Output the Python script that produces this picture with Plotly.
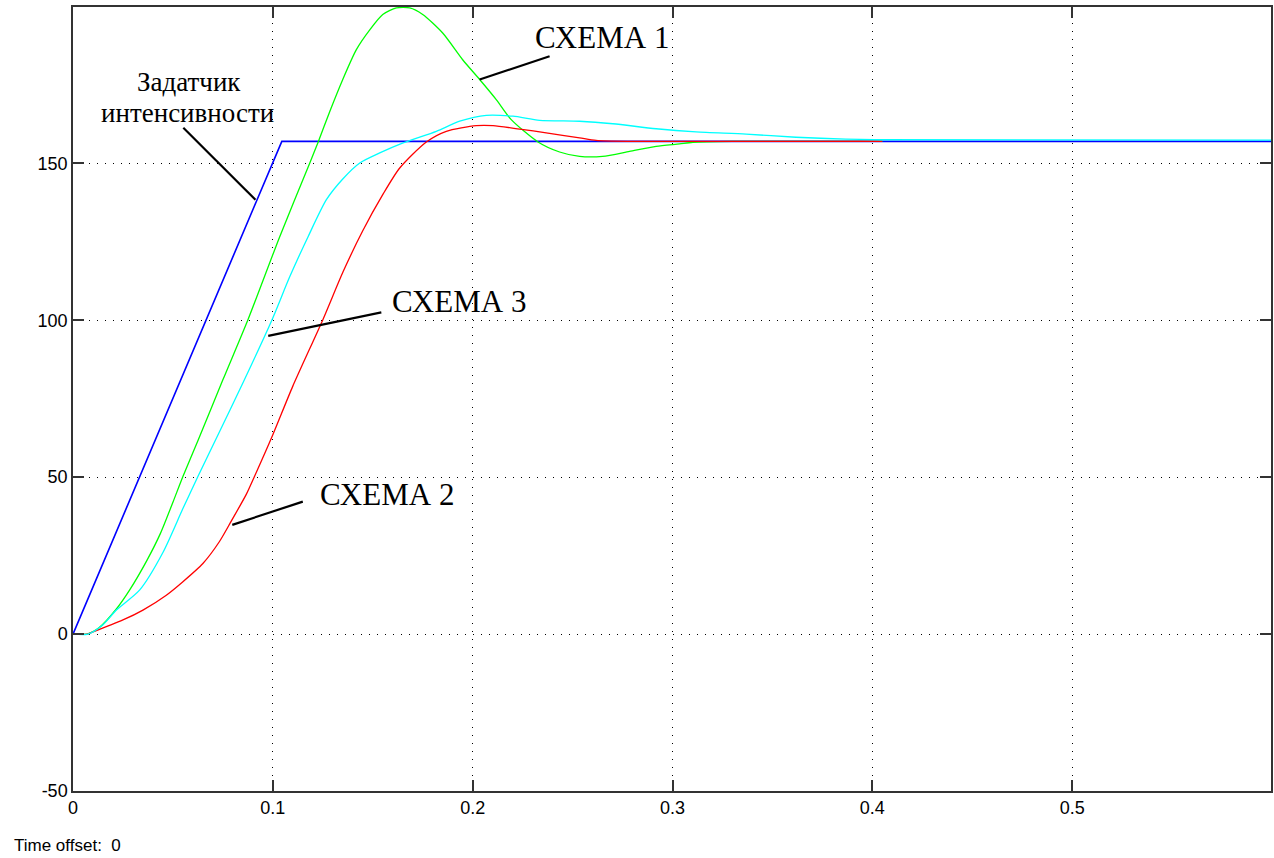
import plotly.graph_objects as go

# ---- data (time in s, speed values) ----
t_ref = [0, 0.1045, 0.6]
v_ref = [0, 157, 157]

t_s1 = [0, 0.007, 0.013, 0.0217, 0.0283, 0.037, 0.0437, 0.05, 0.055, 0.0627, 0.075,
        0.0877, 0.1035, 0.1185, 0.1227, 0.1285, 0.135, 0.1418, 0.1485, 0.155, 0.1618,
        0.1685, 0.175, 0.185, 0.195, 0.2035, 0.2118, 0.2193, 0.2327, 0.2435, 0.2535,
        0.265, 0.2785, 0.2918, 0.3035, 0.3102, 0.33, 0.405]
v_s1 = [0, 0, 2, 8, 14, 23.5, 32, 42, 50.2, 61.9, 81,
        100.4, 126.7, 150.1, 156.8, 166.5, 176.7, 186.2, 192.5, 197.4, 199.5,
        199.5, 197.4, 191.5, 183, 176.7, 170.3, 163.9, 156.8, 153.6, 152.2,
        152.2, 153.8, 155.4, 156.2, 156.7, 157, 157]

t_s2 = [0, 0.007, 0.01, 0.025, 0.035, 0.0467, 0.055, 0.065, 0.0733, 0.0792, 0.0867,
        0.0908, 0.1, 0.11, 0.1252, 0.1352, 0.145, 0.155, 0.1635, 0.1768,
        0.1868, 0.2018, 0.2102, 0.2235, 0.2368, 0.2535, 0.2618, 0.2777, 0.405]
v_s2 = [0, 0, 0.7, 4.5, 7.65, 12.4, 16.7, 22.5, 29.5, 36, 44.5,
        50.2, 63.5, 79, 100.4, 115.5, 128.5, 140, 148.5, 156.8,
        160.2, 162, 162, 160.9, 159.7, 158.1, 157.3, 157, 157]

t_s3 = [0, 0.0075, 0.015, 0.0217, 0.0333, 0.045, 0.055, 0.0625, 0.0718, 0.085, 0.0995,
        0.1085, 0.1177, 0.1268, 0.135, 0.1435, 0.1535, 0.1652, 0.1818, 0.1935, 0.2068,
        0.2202, 0.2335, 0.2535, 0.2702, 0.2918, 0.3118, 0.3368, 0.3618, 0.3868, 0.4052, 0.6]
v_s3 = [0, 0, 3, 7.65, 14, 26, 40, 50.2, 62.5, 80, 100,
        113.9, 126.7, 138.4, 145, 150.1, 153.3, 156.5, 160.2, 163.4, 165.3,
        165.0, 163.7, 163.4, 162.6, 161.0, 160.0, 159.3, 158.3, 157.7, 157.5, 157.4]

x_ticks = [0, 0.1, 0.2, 0.3, 0.4, 0.5]
x_ticktext = ["0", "0.1", "0.2", "0.3", "0.4", "0.5"]
y_ticks = [-50, 0, 50, 100, 150]
y_ticktext = ["-50", "0", "50", "100", "150"]

fig = go.Figure()
fig.add_trace(go.Scatter(x=t_ref, y=v_ref, mode="lines", line=dict(color="#0000ff", width=1.6), name="Задатчик"))
fig.add_trace(go.Scatter(x=t_s1, y=v_s1, mode="lines", line=dict(color="#00ff00", width=1.3, shape="spline", smoothing=0.7), name="СХЕМА 1"))
fig.add_trace(go.Scatter(x=t_s2, y=v_s2, mode="lines", line=dict(color="#ff0000", width=1.3, shape="spline", smoothing=0.7), name="СХЕМА 2"))
fig.add_trace(go.Scatter(x=t_s3, y=v_s3, mode="lines", line=dict(color="#00ffff", width=1.3, shape="spline", smoothing=0.7), name="СХЕМА 3"))

serif = dict(family="Liberation Serif, Times New Roman, serif", size=27, color="black")
serif_big = dict(family="Liberation Serif, Times New Roman, serif", size=31, color="black")

labels = [
    ("Задатчик", 0.058, 176.0, serif),
    ("интенсивности", 0.0575, 166.0, serif),
    ("СХЕМА 1", 0.2645, 190.0, serif_big),
    ("СХЕМА 3", 0.193, 106.0, serif_big),
    ("СХЕМА 2", 0.157, 44.6, serif_big),
]
for txt, x, y, f in labels:
    fig.add_annotation(x=x, y=y, xref="x", yref="y", text=txt, showarrow=False,
                       font=f, xanchor="center", yanchor="middle")

leaders = [
    (0.0552, 161.3, 0.0913, 138.4),
    (0.2385, 184.1, 0.2035, 176.7),
    (0.1543, 102.5, 0.0977, 95.0),
    (0.115, 42.2, 0.0797, 34.8),
]
for x0, y0, x1, y1 in leaders:
    fig.add_shape(type="line", x0=x0, y0=y0, x1=x1, y1=y1, xref="x", yref="y",
                  line=dict(color="black", width=2.2))

fig.add_annotation(x=-0.0508, y=-0.07, xref="paper", yref="paper", text="Time offset:  0",
                   showarrow=False, xanchor="left", yanchor="middle",
                   font=dict(family="Liberation Sans, Arial, sans-serif", size=17, color="black"))

axis_common = dict(
    showline=True, linecolor="#333333", linewidth=1.5, mirror="ticks",
    ticks="inside", ticklen=11, tickwidth=1.5, tickcolor="#333333",
    showgrid=True, gridcolor="black", gridwidth=1, griddash="1px,7px",
    zeroline=False,
    tickfont=dict(family="Liberation Sans, Arial, sans-serif", size=18, color="black"),
)

fig.update_layout(
    width=1274, height=858,
    margin=dict(l=73, r=1, t=7, b=67),
    paper_bgcolor="white", plot_bgcolor="white",
    showlegend=False,
    xaxis=dict(range=[0, 0.5995], tickvals=x_ticks, ticktext=x_ticktext, **axis_common),
    yaxis=dict(range=[-50, 199.8], tickvals=y_ticks, ticktext=y_ticktext, **axis_common),
)

fig.write_html("out.html")
